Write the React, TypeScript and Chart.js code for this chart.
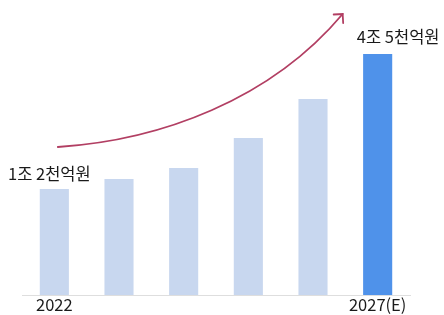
import React, { useEffect, useRef } from "react";
import { Chart, registerables } from "chart.js";

Chart.register(...registerables);

const categories = ["2022", "2023", "2024", "2025", "2026", "2027(E)"];
const shownTicks = ["2022", "", "", "", "", "2027(E)"];
// relative bar heights as drawn in the picture
const barValues = [10.6, 11.6, 12.7, 15.7, 19.6, 24.1];
const barColors = ["#c8d7ef", "#c8d7ef", "#c8d7ef", "#c8d7ef", "#c8d7ef", "#4f92ea"];
const firstLabel = "1조 2천억원";
const lastLabel = "4조 5천억원";

const FONT = "'Noto Sans CJK KR', 'Noto Sans', sans-serif";

const overlayPlugin = {
  id: "overlay",
  afterDatasetsDraw(chart: any) {
    const ctx = chart.ctx;
    const meta = chart.getDatasetMeta(0);
    const b0 = meta.data[0];
    const bN = meta.data[meta.data.length - 1];
    ctx.save();
    ctx.font = `16.5px ${FONT}`;
    ctx.fillStyle = "#1a1a1a";
    ctx.textAlign = "center";
    ctx.textBaseline = "middle";
    ctx.fillText(firstLabel, b0.x - 5, b0.y - 15);
    ctx.fillText(lastLabel, bN.x + 20.5, bN.y - 17);

    // growth arrow
    const sx = b0.x + 3.5, sy = b0.y - 42;
    const ex = bN.x - 35, ey = bN.y - 40;
    const dx = ex - sx, dy = ey - sy;
    ctx.strokeStyle = "#b23f63";
    ctx.lineWidth = 1.8;
    ctx.lineCap = "round";
    ctx.beginPath();
    ctx.moveTo(sx, sy);
    ctx.bezierCurveTo(sx + 0.36 * dx, sy + 0.05 * dy, sx + 0.746 * dx, sy + 0.353 * dy, ex, ey);
    ctx.stroke();
    ctx.beginPath();
    ctx.moveTo(ex - 9, ey + 0.5);
    ctx.lineTo(ex, ey);
    ctx.lineTo(ex + 0.5, ey + 9);
    ctx.stroke();
    ctx.restore();
  },
};

export default function App() {
  const ref = useRef<HTMLCanvasElement>(null);
  useEffect(() => {
    const chart = new Chart(ref.current!, {
      type: "bar",
      data: {
        labels: categories,
        datasets: [
          {
            data: barValues,
            backgroundColor: barColors,
            borderWidth: 0,
            barPercentage: 0.9,
            categoryPercentage: 0.5,
          },
        ],
      },
      options: {
        animation: false,
        responsive: true,
        maintainAspectRatio: false,
        layout: { padding: { left: 22, right: 34, top: 0, bottom: 0 } },
        plugins: { legend: { display: false }, tooltip: { enabled: false } },
        scales: {
          x: {
            grid: { display: false, drawTicks: false },
            border: { color: "#dedede", width: 1 },
            ticks: {
              autoSkip: false,
              maxRotation: 0,
              padding: 1.75,
              color: "#1a1a1a",
              font: { size: 16.5, family: FONT, lineHeight: 1 },
              callback: (_v: any, i: number) => shownTicks[i],
            },
          },
          y: { display: false, min: 0, max: 29.5 },
        },
      },
      plugins: [overlayPlugin],
    });
    return () => chart.destroy();
  }, []);
  return (
    <div style={{ position: "absolute", left: 0, top: 0, width: 444, height: 315, background: "#fff" }}>
      <canvas ref={ref} />
    </div>
  );
}
